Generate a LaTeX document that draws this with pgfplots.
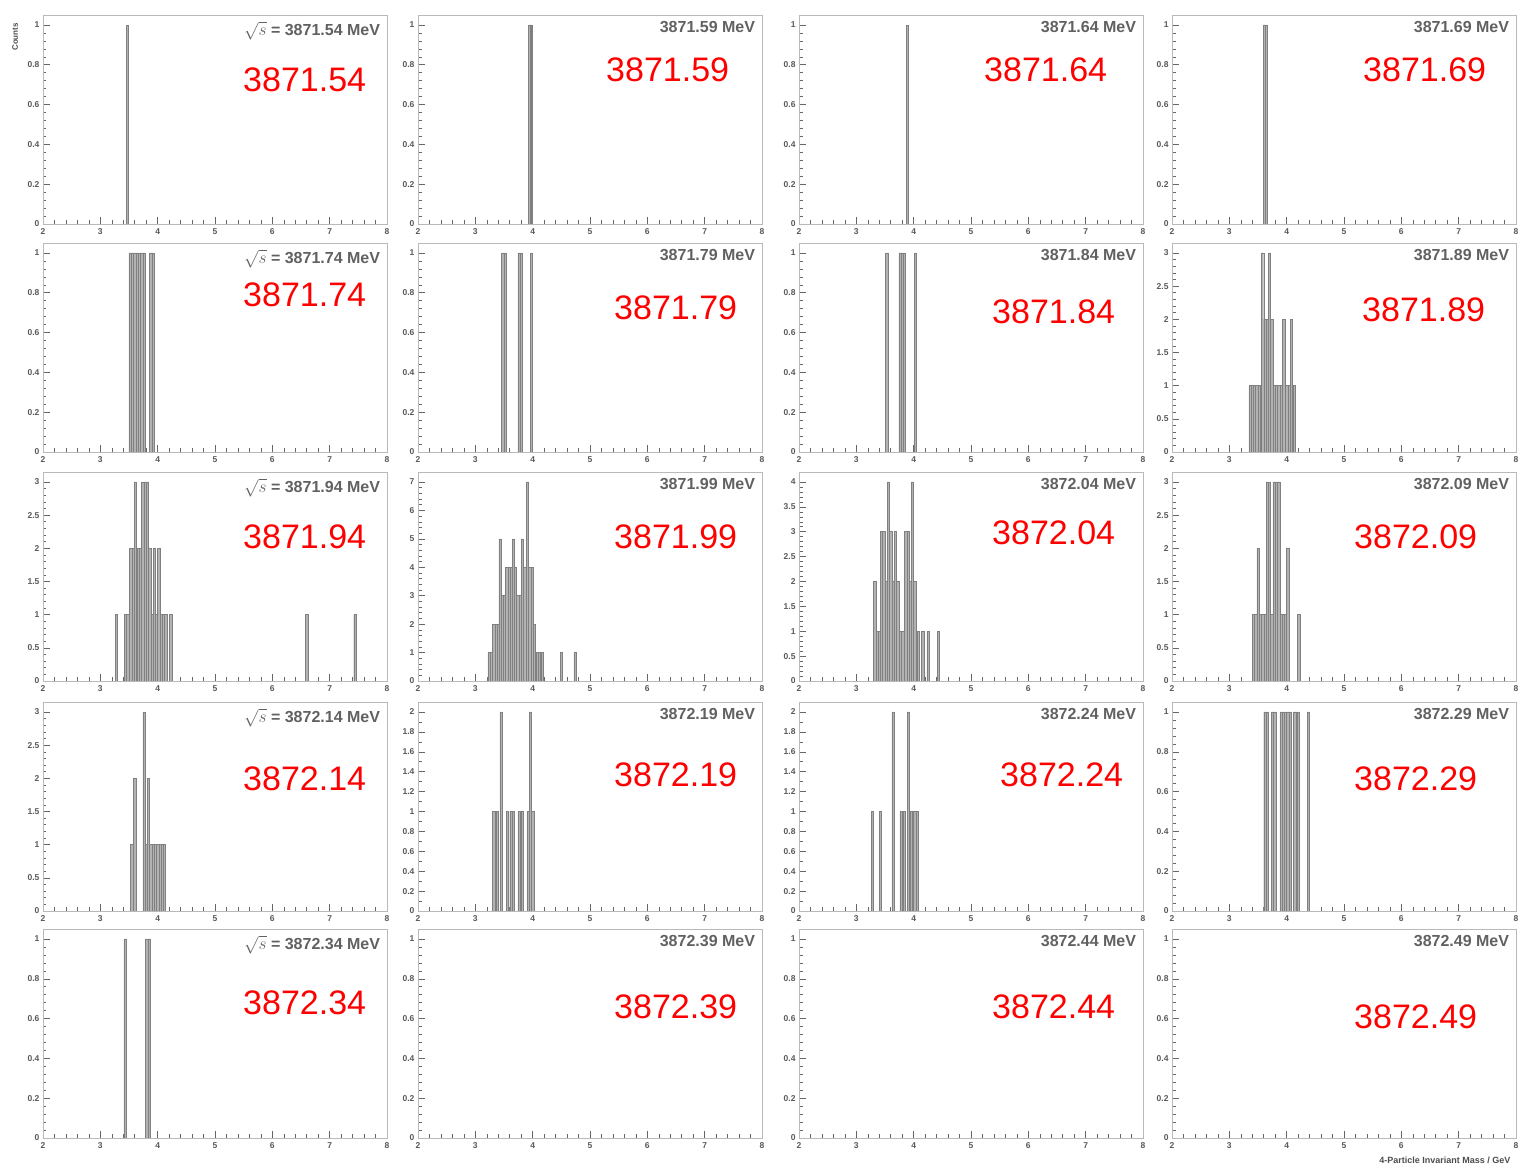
\documentclass[border=0pt]{standalone}
\usepackage{pgfplots}
\pgfplotsset{compat=1.18}
\usepackage{fontspec}
\setmainfont{Liberation Sans}
\pgfplotsset{
  hpanel/.style={
    scale only axis, width=344pt, height=209pt, anchor=south west,
    xmin=2, xmax=8, ymin=0,
    xtick={2,3,4,5,6,7,8}, minor x tick num=4, minor y tick num=4,
    tick align=inside, xtick pos=bottom, ytick pos=left,
    axis line style={gray!55, line width=0.7pt},
    major tick length=7pt, minor tick length=3.5pt,
    tick style={black!60, line width=0.5pt},
    tick label style={font=\bfseries\fontsize{8.5}{8.5}\selectfont, text=black!65},
    xticklabel style={yshift=-1pt},
    /pgf/number format/assume math mode=true,
  },
  one/.style={ymax=1.05, ytick={0,0.2,0.4,0.6,0.8,1}},
  two/.style={ymax=2.1, ytick={0,0.2,0.4,0.6,0.8,1,1.2,1.4,1.6,1.8,2}, minor y tick num=1},
  three/.style={ymax=3.15, ytick={0,0.5,1,1.5,2,2.5,3}},
  four/.style={ymax=4.2, ytick={0,0.5,1,1.5,2,2.5,3,3.5,4}},
  seven/.style={ymax=7.35, ytick={0,1,2,3,4,5,6,7}},
  hist/.style={ybar, bar width=0.04, bar shift=0pt, fill=gray!60, draw=black!50, line width=0.45pt},
}
\newcommand{\ttl}[1]{\node[anchor=north east, font=\bfseries\fontsize{16}{16}\selectfont, text=black!62] at (rel axis cs:0.99,0.985) {#1};}
\newcommand{\rts}{$\sqrt{s}$ = }
\newcommand{\red}[3]{\node[anchor=base west, text=red, font=\fontsize{34}{34}\selectfont, inner sep=0pt] at (#1pt,#2pt) {#3};}
\begin{document}
\begin{tikzpicture}
\useasboundingbox (0,0) rectangle (1520pt,1166pt);
% ---------- Row 1 ----------
\begin{axis}[hpanel, one, at={(43pt,942pt)}]
\addplot[hist] coordinates {(3.47,1)};
\ttl{\rts 3871.54 MeV}
\end{axis}
\begin{axis}[hpanel, one, at={(418pt,942pt)}]
\addplot[hist] coordinates {(3.95,1)(3.98,1)};
\ttl{3871.59 MeV}
\end{axis}
\begin{axis}[hpanel, one, at={(799pt,942pt)}]
\addplot[hist] coordinates {(3.89,1)};
\ttl{3871.64 MeV}
\end{axis}
\begin{axis}[hpanel, one, at={(1172pt,942pt)}]
\addplot[hist] coordinates {(3.61,1)(3.64,1)};
\ttl{3871.69 MeV}
\end{axis}
% ---------- Row 2 ----------
\begin{axis}[hpanel, one, at={(43pt,714pt)}]
\addplot[hist] coordinates {(3.52,1)(3.56,1)(3.60,1)(3.64,1)(3.68,1)(3.72,1)(3.76,1)(3.88,1)(3.92,1)};
\ttl{\rts 3871.74 MeV}
\end{axis}
\begin{axis}[hpanel, one, at={(418pt,714pt)}]
\addplot[hist] coordinates {(3.48,1)(3.52,1)(3.76,1)(3.80,1)(3.98,1)};
\ttl{3871.79 MeV}
\end{axis}
\begin{axis}[hpanel, one, at={(799pt,714pt)}]
\addplot[hist] coordinates {(3.53,1)(3.76,1)(3.80,1)(3.84,1)(4.03,1)};
\ttl{3871.84 MeV}
\end{axis}
\begin{axis}[hpanel, three, at={(1172pt,714pt)}]
\addplot[hist] coordinates {(3.36,1)(3.40,1)(3.44,1)(3.48,1)(3.52,1)(3.58,3)(3.62,2)(3.66,2)(3.70,3)(3.74,2)(3.78,1)(3.82,1)(3.86,1)(3.90,1)(3.95,2)(4.00,1)(4.04,1)(4.08,2)(4.13,1)};
\ttl{3871.89 MeV}
\end{axis}
% ---------- Row 3 ----------
\begin{axis}[hpanel, three, at={(43pt,485pt)}]
\addplot[hist] coordinates {(3.28,1)(3.44,1)(3.48,1)(3.53,2)(3.57,2)(3.61,3)(3.66,2)(3.70,2)(3.74,3)(3.78,3)(3.82,3)(3.86,2)(3.90,1)(3.94,2)(3.98,1)(4.02,2)(4.06,1)(4.10,1)(4.14,1)(4.23,1)(6.60,1)(7.44,1)};
\ttl{\rts 3871.94 MeV}
\end{axis}
\begin{axis}[hpanel, seven, at={(418pt,485pt)}]
\addplot[hist] coordinates {(3.24,1)(3.28,1)(3.32,2)(3.36,2)(3.40,2)(3.43,5)(3.47,3)(3.51,3)(3.55,4)(3.59,4)(3.63,4)(3.66,5)(3.70,4)(3.74,3)(3.78,3)(3.82,5)(3.86,4)(3.91,7)(3.95,4)(3.99,4)(4.03,2)(4.08,1)(4.12,1)(4.17,1)(4.50,1)(4.74,1)};
\ttl{3871.99 MeV}
\end{axis}
\begin{axis}[hpanel, four, at={(799pt,485pt)}]
\addplot[hist] coordinates {(3.32,2)(3.36,1)(3.40,1)(3.44,3)(3.48,3)(3.52,2)(3.56,4)(3.60,3)(3.64,2)(3.68,3)(3.72,2)(3.77,1)(3.81,1)(3.86,3)(3.90,3)(3.94,2)(3.98,4)(4.02,2)(4.08,1)(4.16,1)(4.25,1)(4.43,1)};
\ttl{3872.04 MeV}
\end{axis}
\begin{axis}[hpanel, three, at={(1172pt,485pt)}]
\addplot[hist] coordinates {(3.42,1)(3.46,1)(3.50,2)(3.54,1)(3.58,1)(3.62,1)(3.66,3)(3.70,3)(3.74,1)(3.78,3)(3.82,3)(3.86,3)(3.90,1)(3.94,1)(3.98,1)(4.02,2)(4.21,1)};
\ttl{3872.09 MeV}
\end{axis}
% ---------- Row 4 ----------
\begin{axis}[hpanel, three, at={(43pt,255pt)}]
\addplot[hist] coordinates {(3.55,1)(3.60,2)(3.76,3)(3.80,1)(3.84,2)(3.88,1)(3.92,1)(3.96,1)(4.00,1)(4.04,1)(4.08,1)(4.12,1)};
\ttl{\rts 3872.14 MeV}
\end{axis}
\begin{axis}[hpanel, two, at={(418pt,255pt)}]
\addplot[hist] coordinates {(3.32,1)(3.38,1)(3.45,2)(3.56,1)(3.62,1)(3.66,1)(3.76,1)(3.82,1)(3.92,1)(3.96,2)(4.00,1)};
\ttl{3872.19 MeV}
\end{axis}
\begin{axis}[hpanel, two, at={(799pt,255pt)}]
\addplot[hist] coordinates {(3.28,1)(3.42,1)(3.64,2)(3.78,1)(3.84,1)(3.91,2)(3.96,1)(4.02,1)(4.06,1)};
\ttl{3872.24 MeV}
\end{axis}
\begin{axis}[hpanel, one, at={(1172pt,255pt)}]
\addplot[hist] coordinates {(3.62,1)(3.66,1)(3.75,1)(3.79,1)(3.90,1)(3.94,1)(3.98,1)(4.02,1)(4.06,1)(4.14,1)(4.20,1)(4.38,1)};
\ttl{3872.29 MeV}
\end{axis}
% ---------- Row 5 ----------
\begin{axis}[hpanel, one, at={(43pt,28pt)}]
\addplot[hist] coordinates {(3.43,1)(3.81,1)(3.85,1)};
\ttl{\rts 3872.34 MeV}
\end{axis}
\begin{axis}[hpanel, one, at={(418pt,28pt)}]
\ttl{3872.39 MeV}
\end{axis}
\begin{axis}[hpanel, one, at={(799pt,28pt)}]
\ttl{3872.44 MeV}
\end{axis}
\begin{axis}[hpanel, one, at={(1172pt,28pt)}]
\ttl{3872.49 MeV}
\end{axis}
% ---------- axis titles ----------
\node[rotate=90, anchor=center, font=\bfseries\fontsize{8}{8}\selectfont, text=black!70] at (15pt,1129pt) {Counts};
\node[anchor=east, font=\bfseries\fontsize{9}{9}\selectfont, text=black!70] at (1514pt,6pt) {4-Particle Invariant Mass / GeV};
% ---------- red labels ----------
\red{243}{1074}{3871.54}
\red{606}{1084}{3871.59}
\red{984}{1084}{3871.64}
\red{1363}{1084}{3871.69}
\red{243}{859}{3871.74}
\red{614}{846}{3871.79}
\red{992}{842}{3871.84}
\red{1362}{844}{3871.89}
\red{243}{617}{3871.94}
\red{614}{617}{3871.99}
\red{992}{621}{3872.04}
\red{1354}{617}{3872.09}
\red{243}{375}{3872.14}
\red{614}{379}{3872.19}
\red{1000}{379}{3872.24}
\red{1354}{375}{3872.29}
\red{243}{151}{3872.34}
\red{614}{147}{3872.39}
\red{992}{147}{3872.44}
\red{1354}{137}{3872.49}
\end{tikzpicture}
\end{document}
